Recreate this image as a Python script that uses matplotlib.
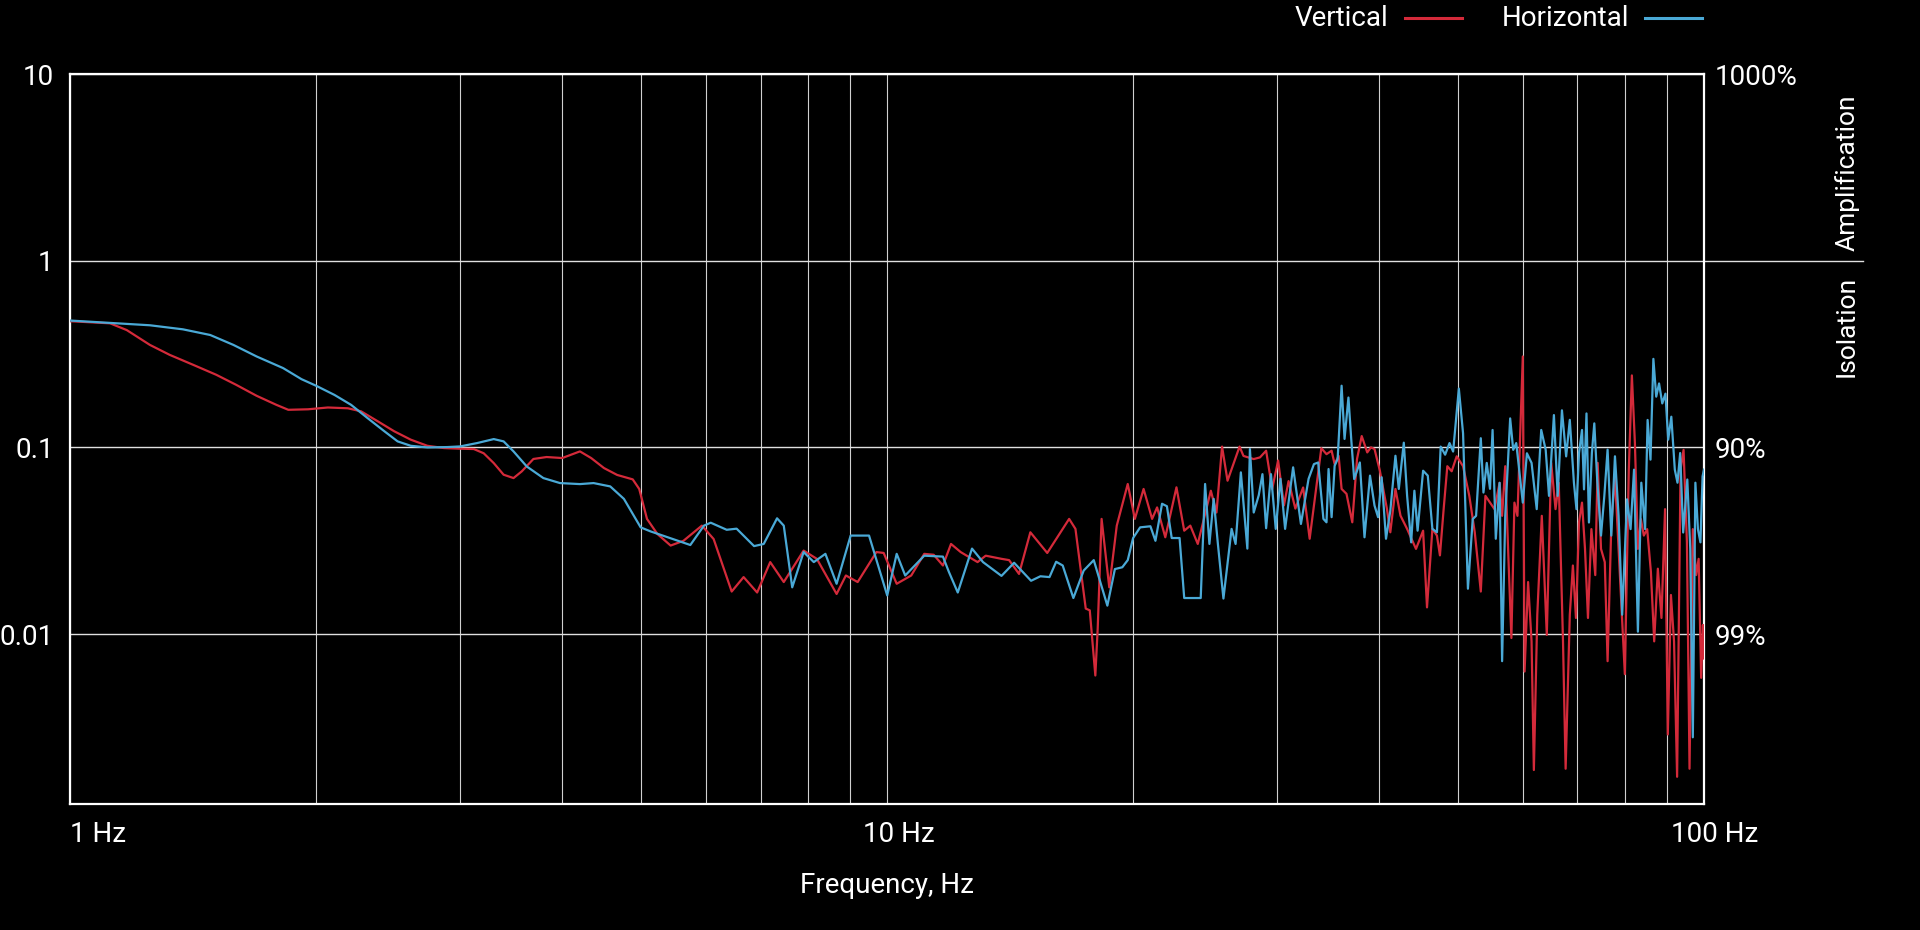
import matplotlib
matplotlib.use("Agg")
import matplotlib.pyplot as plt
from matplotlib.lines import Line2D
from matplotlib.ticker import LogLocator, NullFormatter, FixedLocator

plt.rcParams['font.family'] = ['Roboto', 'DejaVu Sans']

# Transmissibilité, par bande de fréquence (Hz)
# --- Horizontal (bleu)
h_freq_low = [
    1.0, 1.14, 1.251, 1.373, 1.483, 1.583, 1.690, 1.821, 1.918, 2.0,
    2.105, 2.206, 2.311, 2.423, 2.515, 2.61, 2.735, 2.893, 3.0, 3.147,
    3.298, 3.391, 3.487, 3.62, 3.793, 3.975, 4.205, 4.37,
]
h_vals_low = [
    0.478, 0.462, 0.451, 0.429, 0.400, 0.354, 0.307, 0.266, 0.232, 0.2136,
    0.191, 0.169, 0.1435, 0.122, 0.1077, 0.102, 0.100, 0.1004, 0.1012, 0.1055,
    0.1108, 0.1077, 0.0952, 0.079, 0.0685, 0.0644, 0.0636, 0.0644,
]
h_freq_mid = [
    4.58, 4.76, 4.99, 5.13, 5.53, 5.74, 5.965, 6.08, 6.36, 6.54,
    6.87, 7.06, 7.33, 7.47, 7.65, 7.9, 8.13, 8.4, 8.67, 9.02,
    9.5, 10.0, 10.27, 10.52, 11.1, 11.7, 11.9, 12.2, 12.7, 13.1,
    13.8, 14.3, 15.0, 15.4, 15.8, 16.1, 16.4, 16.9, 17.4, 17.9,
    18.6, 19.0, 19.4, 19.7, 20.0, 20.4, 21.0, 21.3, 21.7, 22.0,
    22.3, 22.8, 23.1, 24.2, 24.5, 24.8, 25.1, 25.4, 25.8, 26.4,
    26.7, 27.1, 27.6, 27.8, 28.1, 28.5, 28.8, 29.1, 29.5, 29.9,
    30.3, 30.7, 31.4, 32.1, 32.8, 33.3, 33.7, 34.2, 34.5, 34.7,
    35.0, 35.3, 35.6, 36.0, 36.3, 36.7, 37.0, 37.3, 37.9, 38.4,
    39.0, 39.5, 39.9, 40.3, 40.8, 41.3, 41.9, 42.3, 42.9, 43.3,
    43.8, 44.2, 44.6, 45.3, 45.9, 46.5,
]
h_vals_mid = [
    0.0618, 0.053, 0.0373, 0.0355, 0.0317, 0.0300, 0.0381, 0.0395, 0.0362, 0.0367,
    0.0296, 0.0304, 0.0417, 0.0381, 0.0178, 0.0275, 0.0243, 0.0269, 0.0186, 0.0337,
    0.0337, 0.0161, 0.0269, 0.0206, 0.0263, 0.026, 0.0215, 0.0167, 0.0287, 0.0243,
    0.0205, 0.0241, 0.0193, 0.0204, 0.0202, 0.0244, 0.0233, 0.0156, 0.0219, 0.0249,
    0.0142, 0.0223, 0.0228, 0.0249, 0.0327, 0.0373, 0.0378, 0.0316, 0.0499, 0.0484,
    0.0327, 0.0327, 0.0156, 0.0156, 0.0637, 0.0304, 0.053, 0.0304, 0.0155, 0.0366,
    0.0304, 0.0735, 0.0287, 0.098, 0.0448, 0.0554, 0.0719, 0.0369, 0.0719, 0.0366,
    0.0679, 0.0366, 0.0782, 0.0389, 0.0679, 0.0814, 0.083, 0.0414, 0.0397, 0.0766,
    0.0423, 0.0797, 0.0867, 0.214, 0.111, 0.185, 0.109, 0.0677, 0.083, 0.033,
    0.0706, 0.0488, 0.0423, 0.0692, 0.0324, 0.0458, 0.0902, 0.0599, 0.106, 0.0552,
    0.031, 0.0586, 0.0358, 0.075, 0.0706, 0.0366,
]
h_freq_high = [
    47.1, 47.6, 48.2, 48.8, 49.3, 50.1, 50.7, 51.4, 52.1, 52.6,
    53.3, 53.7, 54.2, 54.7, 55.1, 55.6, 56.2, 56.6, 57.1, 57.9,
    58.4, 58.9, 60.0, 60.7, 61.5, 62.4, 63.2, 64.0, 64.6, 65.5,
    66.2, 67.0, 67.8, 68.5, 69.3, 69.8, 70.3, 70.9, 71.3, 71.8,
    72.3, 72.9, 73.4, 74.0, 74.8, 75.5, 76.2, 77.0, 77.8, 78.6,
    79.4, 80.5, 81.3, 82.1, 83.0, 83.8, 84.7, 85.3, 86.0, 86.7,
    87.4, 88.1, 88.9, 89.7, 90.4, 91.2, 92.1, 92.8, 93.5, 94.3,
    95.4, 96.2, 96.9, 97.6, 98.3, 99.0, 99.6, 100.0,
]
h_vals_high = [
    0.0351, 0.101, 0.0914, 0.1055, 0.095, 0.2065, 0.119, 0.0175, 0.0413, 0.043,
    0.112, 0.0573, 0.0826, 0.06, 0.124, 0.0324, 0.0646, 0.00716, 0.043, 0.143,
    0.097, 0.1055, 0.0506, 0.093, 0.0826, 0.0467, 0.124, 0.097, 0.055, 0.149,
    0.055, 0.158, 0.0895, 0.1405, 0.0647, 0.0467, 0.0933, 0.124, 0.0596, 0.152,
    0.0396, 0.0933, 0.1345, 0.0673, 0.0337, 0.0549, 0.0973, 0.0337, 0.0896, 0.043,
    0.0127, 0.0527, 0.0365, 0.076, 0.0103, 0.0647, 0.0365, 0.1403, 0.086, 0.298,
    0.187, 0.22, 0.172, 0.194, 0.11, 0.146, 0.076, 0.0647, 0.0933, 0.035,
    0.0673, 0.0286, 0.0028, 0.0647, 0.0365, 0.031, 0.07, 0.076,
]

# --- Vertical (rouge)
v_freq_low = [
    1.0, 1.118, 1.172, 1.251, 1.323, 1.413, 1.508, 1.595, 1.690, 1.787,
    1.848, 1.954, 2.066, 2.186, 2.269, 2.378, 2.491, 2.61, 2.735, 2.866,
    3.0, 3.118, 3.206, 3.298, 3.391, 3.487, 3.569, 3.688, 3.828, 4.0,
    4.205, 4.34, 4.5,
]
v_vals_low = [
    0.474, 0.462, 0.425, 0.354, 0.313, 0.277, 0.245, 0.2165, 0.189, 0.169,
    0.159, 0.160, 0.1636, 0.162, 0.156, 0.138, 0.122, 0.110, 0.102, 0.0992,
    0.0984, 0.098, 0.093, 0.0824, 0.0714, 0.0685, 0.0744, 0.0867, 0.0888, 0.0877,
    0.0952, 0.0877, 0.0775,
]
v_freq_mid = [
    4.67, 4.88, 4.97, 5.08, 5.23, 5.43, 5.63, 5.93, 6.13, 6.45,
    6.67, 6.93, 7.19, 7.47, 7.9, 8.2, 8.67, 8.9, 9.2, 9.7,
    9.9, 10.27, 10.7, 11.1, 11.4, 11.7, 11.97, 12.3, 12.9, 13.2,
    13.8, 14.1, 14.5, 14.97, 15.7, 16.7, 17.0, 17.5, 17.7, 17.98,
    18.1, 18.3, 18.7, 19.1, 19.7, 20.1, 20.6, 21.1, 21.4, 21.9,
    22.6, 23.1, 23.5, 24.0, 24.9, 25.3, 25.7, 26.1, 27.0, 27.3,
    28.1, 28.6, 29.1, 29.6, 30.1, 30.6, 31.0, 31.6, 32.3, 32.9,
    33.5, 34.0, 34.5, 35.0, 35.3, 35.7, 36.0, 36.5, 37.1, 37.6,
    38.1, 38.7, 39.1, 39.5, 40.1, 40.9, 41.3, 41.9, 42.5, 43.3,
    44.4, 45.3, 45.8, 46.5,
]
v_vals_mid = [
    0.0712, 0.0674, 0.0599, 0.0414, 0.0344, 0.0298, 0.0316, 0.0381, 0.0323, 0.0169,
    0.0202, 0.0167, 0.0243, 0.019, 0.028, 0.0253, 0.0164, 0.0206, 0.019, 0.0275,
    0.0272, 0.0186, 0.0206, 0.0269, 0.0266, 0.0233, 0.0304, 0.0275, 0.0243, 0.0263,
    0.0253, 0.0249, 0.021, 0.0351, 0.0272, 0.0414, 0.0366, 0.0137, 0.0134, 0.0060,
    0.0107, 0.0414, 0.0178, 0.0381, 0.0637, 0.0414, 0.0599, 0.0414, 0.0477, 0.033,
    0.0611, 0.0358, 0.0381, 0.0304, 0.0586, 0.0448, 0.101, 0.0663, 0.101, 0.090,
    0.0866, 0.0884, 0.096, 0.0599, 0.085, 0.0489, 0.066, 0.047, 0.061, 0.0324,
    0.0599, 0.099, 0.092, 0.096, 0.0814, 0.090, 0.0599, 0.0564, 0.0397, 0.0867,
    0.115, 0.094, 0.1, 0.098, 0.075, 0.047, 0.0351, 0.0599, 0.0431, 0.0366,
    0.0286, 0.0358, 0.0139, 0.0366,
]
v_freq_high = [
    47.1, 47.5, 48.0, 48.5, 49.1, 49.8, 50.7, 51.6, 52.4, 53.3,
    54.0, 54.7, 55.4, 56.2, 56.6, 57.1, 57.6, 58.1, 58.6, 59.1,
    60.0, 60.3, 60.9, 61.5, 61.9, 62.5, 63.3, 64.2, 65.0, 65.8,
    66.4, 67.2, 67.7, 68.5, 69.1, 69.7, 70.3, 70.9, 71.5, 72.1,
    72.8, 73.6, 74.1, 74.8, 75.6, 76.2, 77.0, 77.8, 78.6, 80.0,
    80.9, 81.6, 82.3, 83.0, 83.7, 84.4, 85.2, 86.1, 86.9, 87.8,
    88.7, 89.6, 90.3, 91.1, 91.9, 92.7, 93.6, 94.4, 95.3, 96.0,
    96.9, 97.8, 98.5, 99.2, 99.7, 100.0,
]
v_vals_high = [
    0.0337, 0.0264, 0.0467, 0.0793, 0.0745, 0.0896, 0.0793, 0.055, 0.0351, 0.0169,
    0.055, 0.0506, 0.0467, 0.0646, 0.043, 0.0793, 0.0264, 0.00953, 0.0506, 0.043,
    0.307, 0.0063, 0.019, 0.00914, 0.00187, 0.0127, 0.043, 0.0099, 0.0826, 0.0467,
    0.0646, 0.00914, 0.0019, 0.0127, 0.0233, 0.0122, 0.0396, 0.0506, 0.0286, 0.0122,
    0.0365, 0.0207, 0.0826, 0.0286, 0.0243, 0.00716, 0.0381, 0.07, 0.0286, 0.0061,
    0.076, 0.243, 0.1055, 0.0286, 0.0413, 0.0337, 0.0365, 0.0215, 0.00914, 0.0224,
    0.0122, 0.0467, 0.0029, 0.0162, 0.00914, 0.00172, 0.076, 0.097, 0.031, 0.0019,
    0.0365, 0.0207, 0.0253, 0.00583, 0.0112, 0.0074,
]

horizontal_freq = h_freq_low + h_freq_mid + h_freq_high
horizontal_vals = h_vals_low + h_vals_mid + h_vals_high
vertical_freq = v_freq_low + v_freq_mid + v_freq_high
vertical_vals = v_vals_low + v_vals_mid + v_vals_high
assert len(horizontal_freq) == len(horizontal_vals)
assert len(vertical_freq) == len(vertical_vals)

left_ticks = [10, 1, 0.1, 0.01]
left_labels = ["10", "1", "0.1", "0.01"]
right_ticks = [10, 0.1, 0.01]
right_labels = ["1000%", "90%", "99%"]
x_ticks = [1, 10, 100]
x_labels = ["1 Hz", "10 Hz", "100 Hz"]

RED = "#d42a3a"
BLUE = "#4aa9d6"
FG = "white"

fig = plt.figure(figsize=(19.2, 9.3), dpi=100, facecolor="black")
ax = fig.add_axes([0.0367, 0.1355, 0.8508, 0.7849], facecolor="black")

ax.set_xscale("log")
ax.set_yscale("log")
ax.set_xlim(1, 100)
ax.set_ylim(0.00123, 10)

# grille : verticales à chaque Hz / dizaine, horizontales aux décades
ax.xaxis.set_major_locator(FixedLocator(x_ticks))
ax.xaxis.set_minor_locator(LogLocator(base=10, subs=range(2, 10)))
ax.xaxis.set_minor_formatter(NullFormatter())
ax.set_xticklabels([])
ax.yaxis.set_major_locator(FixedLocator(left_ticks))
ax.yaxis.set_minor_locator(FixedLocator([]))
ax.set_yticklabels(left_labels)
ax.grid(True, axis="x", which="both", color="#d0d0d0", linewidth=0.8)
ax.grid(True, axis="y", which="major", color="#e0e0e0", linewidth=1.0)
ax.tick_params(axis="both", which="both", length=0, colors=FG)
ax.tick_params(axis="y", labelsize=20, pad=12)

for sp in ax.spines.values():
    sp.set_color(FG)
    sp.set_linewidth(1.6)

ax.plot(vertical_freq, vertical_vals, color=RED, linewidth=1.6, zorder=3)
ax.plot(horizontal_freq, horizontal_vals, color=BLUE, linewidth=1.6, zorder=3)

# labels de l'axe x : le nombre centré sur la graduation
for f, lab in zip(x_ticks, x_labels):
    if f == 1:
        ax.annotate(lab, xy=(f, 0), xycoords=("data", "axes fraction"),
                    xytext=(0, -12), textcoords="offset points",
                    ha="left", va="top", color=FG, fontsize=20)
    else:
        ax.annotate(lab, xy=(f, 0), xycoords=("data", "axes fraction"),
                    xytext=(8, -12), textcoords="offset points",
                    ha="center", va="top", color=FG, fontsize=20)

fig.text(0.462, 1 - 885 / 930, "Frequency, Hz", color=FG, fontsize=20,
         ha="center", va="center")

# axe de droite en pourcentage
ax2 = ax.twinx()
ax2.set_yscale("log")
ax2.set_ylim(ax.get_ylim())
ax2.yaxis.set_major_locator(FixedLocator(right_ticks))
ax2.yaxis.set_minor_locator(FixedLocator([]))
ax2.set_yticklabels(right_labels)
ax2.tick_params(axis="y", length=0, colors=FG, labelsize=20, pad=8)
for sp in ax2.spines.values():
    sp.set_visible(False)

# séparateur Amplification / Isolation
ax.plot([1.0, 1.0973], [1, 1], transform=ax.get_yaxis_transform(),
        color="#e0e0e0", linewidth=1.0, clip_on=False)
ax.annotate("Amplification", xy=(1.0875, 1), xycoords=("axes fraction", "data"),
            xytext=(0, 7), textcoords="offset points", rotation=90,
            ha="center", va="bottom", color=FG, fontsize=19)
ax.annotate("Isolation", xy=(1.0875, 1), xycoords=("axes fraction", "data"),
            xytext=(0, -11), textcoords="offset points", rotation=90,
            ha="center", va="top", color=FG, fontsize=19)

# légende faite à la main en haut à droite
ly = 1 - 18 / 930
fig.text(1295 / 1920, ly, "Vertical", color=FG, fontsize=20, ha="left", va="center")
fig.add_artist(Line2D([1405 / 1920, 1462 / 1920], [ly, ly], color=RED, linewidth=2.2))
fig.text(1502 / 1920, ly, "Horizontal", color=FG, fontsize=20, ha="left", va="center")
fig.add_artist(Line2D([1645 / 1920, 1702 / 1920], [ly, ly], color=BLUE, linewidth=2.2))

fig.savefig("out.png", dpi=100, facecolor="black")
